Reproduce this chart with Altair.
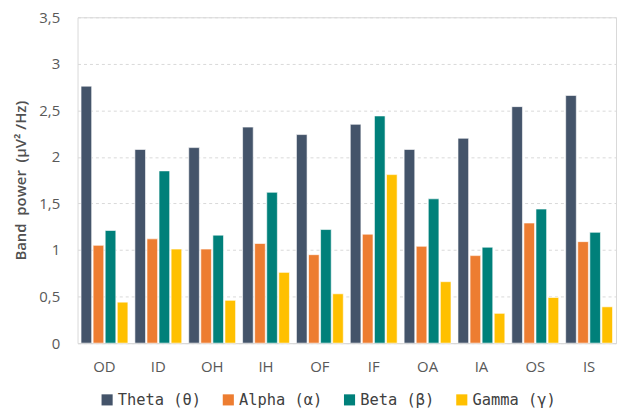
import altair as alt
import pandas as pd

categories = ["OD", "ID", "OH", "IH", "OF", "IF", "OA", "IA", "OS", "IS"]
bands = ["Theta (θ)", "Alpha (α)", "Beta (β)", "Gamma (γ)"]
theta = [2.76, 2.08, 2.10, 2.32, 2.24, 2.35, 2.08, 2.20, 2.54, 2.66]
alpha = [1.05, 1.12, 1.01, 1.07, 0.95, 1.17, 1.04, 0.94, 1.29, 1.09]
beta = [1.21, 1.85, 1.16, 1.62, 1.22, 2.44, 1.55, 1.03, 1.44, 1.19]
gamma = [0.44, 1.01, 0.46, 0.76, 0.53, 1.81, 0.66, 0.32, 0.49, 0.39]
colors = ["#44546A", "#ED7D31", "#00807A", "#FFC000"]
y_title = "Band\u00a0\u00a0power\u00a0\u00a0(µV²\u00a0/Hz)"

rows = []
for series, vals in zip(bands, [theta, alpha, beta, gamma]):
    for c, v in zip(categories, vals):
        rows.append({"cat": c, "band": series, "value": v})
df = pd.DataFrame(rows)

chart = alt.Chart(df).mark_bar(stroke="#ffffff", strokeWidth=0.6).encode(
    x=alt.X("cat:N", sort=categories, title=None,
            scale=alt.Scale(paddingInner=0.13, paddingOuter=0.065),
            axis=alt.Axis(labelAngle=0, labelFont="Open Sans", labelFontSize=15,
                          labelColor="#595959", labelPadding=17, ticks=False,
                          domain=True, domainColor="#D9D9D9")),
    xOffset=alt.XOffset("band:N", sort=bands, scale=alt.Scale(paddingInner=0.12)),
    y=alt.Y("value:Q", title=y_title,
            scale=alt.Scale(domain=[0, 3.5]),
            axis=alt.Axis(values=[0, 0.5, 1, 1.5, 2, 2.5, 3, 3.5],
                          labelExpr="replace(format(datum.value, ''), '.', ',')",
                          labelFont="Open Sans", labelFontSize=15, labelColor="#595959",
                          labelPadding=18, ticks=False, domain=False,
                          grid=True, gridColor="#D9D9D9", gridDash=[3, 3],
                          titleFont="Open Sans", titleFontSize=15, titleFontWeight=600,
                          titleColor="#505050", titlePadding=10)),
    color=alt.Color("band:N", sort=bands,
                    scale=alt.Scale(domain=bands, range=colors),
                    legend=alt.Legend(title=None, orient="none", direction="horizontal",
                                      legendX=22, legendY=377,
                                      symbolType="square", symbolSize=125,
                                      symbolStrokeWidth=0, symbolOffset=0,
                                      labelOffset=3,
                                      labelFont="DejaVu Sans Mono", labelFontSize=15.5,
                                      labelColor="#404040", columnPadding=19)),
).properties(
    width=542, height=328,
    padding={"left": 5, "top": 1, "right": 5, "bottom": 2},
).configure_view(stroke="#D9D9D9")

chart.save("out.html", embed_options={"renderer": "svg", "actions": False})
